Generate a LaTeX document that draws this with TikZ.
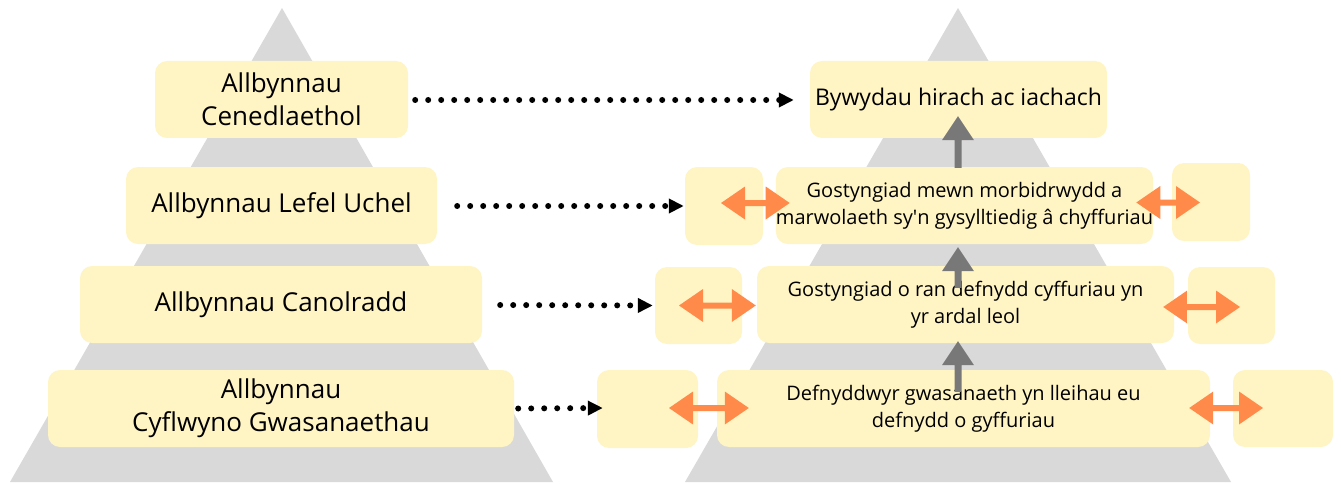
\documentclass[tikz,border=0pt]{standalone}
\usepackage{fontspec}
\setmainfont{Open Sans}
\usetikzlibrary{arrows.meta,calc}
\definecolor{boxyellow}{HTML}{FFF5C4}
\definecolor{pyrgray}{HTML}{D9D9D9}
\definecolor{arrgray}{HTML}{787878}
\definecolor{orangearr}{HTML}{FF8A4A}
\begin{document}
\begin{tikzpicture}[x=1pt,y=-1pt,
  box/.style={fill=boxyellow, rounded corners=12pt, inner sep=0pt, align=center, text=black},
  bigtext/.style={font=\fontsize{26}{33}\selectfont},
  toptext/.style={font=\fontsize{23}{28}\selectfont},
  smalltext/.style={font=\fontsize{20}{27}\selectfont},
  dotarrow/.style={draw=black, line width=6pt, line cap=round, dash pattern=on 0pt off 13pt,
    -{Triangle[length=15pt,width=14pt]}},
  oarrow/.style={fill=orangearr, draw=none,
    to path={let \p1=(\tikztostart), \p2=(\tikztotarget) in
      (\x1,\y1) -- (\x1+24pt,\y1+16.5pt) -- (\x1+24pt,\y1+3pt) -- (\x2-24pt,\y1+3pt)
      -- (\x2-24pt,\y1+16.5pt) -- (\x2,\y1) -- (\x2-24pt,\y1-16.5pt) -- (\x2-24pt,\y1-3pt)
      -- (\x1+24pt,\y1-3pt) -- (\x1+24pt,\y1-16.5pt) -- cycle}},
  garrow/.style={fill=arrgray, draw=none,
    to path={let \p1=(\tikztostart), \p2=(\tikztotarget) in
      (\x1-3.5pt,\y1) -- (\x1-3.5pt,\y2-24pt) -- (\x1-16pt,\y2-24pt) -- (\x1,\y2)
      -- (\x1+16pt,\y2-24pt) -- (\x1+3.5pt,\y2-24pt) -- (\x1+3.5pt,\y1) -- cycle}}
]
\useasboundingbox (0,0) rectangle (1341,484);
\fill[white] (0,0) rectangle (1341,484);
% pyramids
\fill[pyrgray] (282,8) -- (553,482) -- (10,482) -- cycle;
\fill[pyrgray] (958,8) -- (1231,482) -- (685,482) -- cycle;
% left boxes
\node[box, bigtext, minimum width=253pt, minimum height=77pt] (L1) at (281.5,99.5) {Allbynnau\\Cenedlaethol};
\node[box, bigtext, minimum width=311pt, minimum height=77pt] (L2) at (281.5,205.5) {Allbynnau Lefel Uchel};
\node[box, bigtext, minimum width=402pt, minimum height=77pt] (L3) at (281,304.5) {Allbynnau Canolradd};
\node[box, bigtext, minimum width=466pt, minimum height=77pt] (L4) at (281,408.5) {Allbynnau\\Cyflwyno Gwasanaethau};
% right boxes
\node[box, toptext, minimum width=297pt, minimum height=77pt] (T) at (958.5,99.5) {Bywydau hirach ac iachach};
\node[box, smalltext, minimum width=361pt, minimum height=77pt] (M2) at (964.5,205.5) {Gostyngiad mewn morbidrwydd a\\marwolaeth sy\textquotesingle n gysylltiedig â chyffuriau};
\node[box, minimum width=78pt, minimum height=78pt] (LS2) at (724,206) {};
\node[box, minimum width=78pt, minimum height=78pt] (RS2) at (1211,202) {};
\node[box, smalltext, minimum width=417pt, minimum height=77pt] (M3) at (965.5,304.5) {Gostyngiad o ran defnydd cyffuriau yn\\yr ardal leol};
\node[box, minimum width=87pt, minimum height=77pt] (LS3) at (698.5,305.5) {};
\node[box, minimum width=87pt, minimum height=77pt] (RS3) at (1231.5,305.5) {};
\node[box, smalltext, minimum width=493pt, minimum height=77pt] (M4) at (963.5,408.5) {Defnyddwyr gwasanaeth yn lleihau eu\\defnydd o gyffuriau};
\node[box, minimum width=101pt, minimum height=78pt] (LS4) at (647.5,409) {};
\node[box, minimum width=100pt, minimum height=77pt] (RS4) at (1283,408.5) {};
% dotted arrows
\draw[dotarrow] ($(L1.east)+(7,0.5)$) -- ($(T.west)+(-16,0.5)$);
\draw[dotarrow] ($(L2.east)+(20,0.5)$) -- ($(LS2.west)+(-1,0)$);
\draw[dotarrow] ($(L3.east)+(18,0.5)$) -- ($(LS3.west)+(-2,0)$);
\draw[dotarrow] ($(L4.east)+(4,0)$) -- ($(LS4.west)+(6,-1)$);
% orange double arrows
\path[oarrow] ($(LS2.center)+(-3,-3)$) to ($(M2.west)+(14,-3)$);
\path[oarrow] ($(M2.east)+(-17,-3)$) to ($(RS2.center)+(-11,0)$);
\path[oarrow] ($(LS3.center)+(-19.5,0)$) to ($(M3.west)+(-1,0)$);
\path[oarrow] ($(M3.east)+(-11,2.5)$) to ($(RS3.center)+(8.5,0)$);
\path[oarrow] ($(LS4.center)+(21.5,-1)$) to ($(M4.west)+(32,0)$);
\path[oarrow] ($(M4.east)+(-21,-0.5)$) to ($(RS4.center)+(-20,0)$);
% gray arrows
\path[garrow] ($(M2.north)+(-6.5,1)$) to ($(T.south)+(-0.5,-22)$);
\path[garrow] ($(M3.north)+(-7.5,22)$) to ($(M2.south)+(-6.5,3)$);
\path[garrow] ($(M4.north)+(-5.5,22)$) to ($(M3.south)+(-7.5,-2)$);
\end{tikzpicture}
\end{document}
